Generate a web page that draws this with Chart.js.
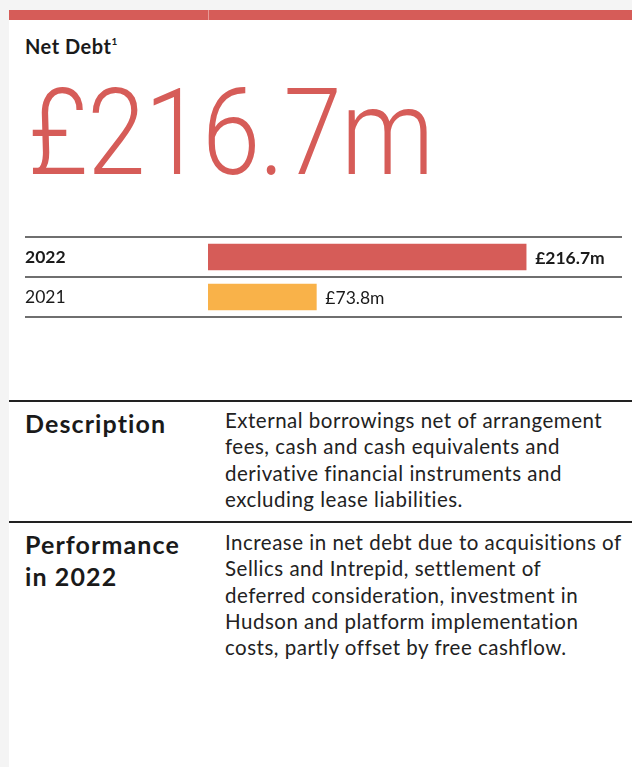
<!DOCTYPE html>
<html>
<head>
<meta charset="utf-8">
<script src="https://cdn.jsdelivr.net/npm/chart.js@4.4.1/dist/chart.umd.min.js"></script>
<style>
    html, body { margin: 0; padding: 0; }
    body {
        width: 632px; height: 767px; overflow: hidden; position: relative;
        background: #f4f4f4; font-family: 'Lato', 'Open Sans', sans-serif; color: #1a1a1a;
    }
    .card { position: absolute; left: 9px; top: 20px; right: 0; bottom: 0; background: #fff; }
    .topbar { position: absolute; left: 9px; top: 10px; right: 0; height: 10px; background: #d65c58; }
    .topbar .split { position: absolute; left: 199px; top: 0; width: 1px; height: 10px; background: #e79a97; }
    .kpi-title { position: absolute; left: 25px; top: 34px; font-size: 20px; line-height: 24px; font-weight: 700; letter-spacing: 0.5px; }
    .kpi-title sup { font-size: 10px; line-height: 0; vertical-align: 9px; }
    .kpi-value {
        position: absolute; left: 28px; top: 73px; font-family: 'Roboto', sans-serif; font-size: 120px; font-weight: 300;
        color: #d65c58; letter-spacing: -1px; line-height: 120px; white-space: nowrap;
        transform: scaleX(0.875); transform-origin: left top;
    }
    #chart-wrap { position: absolute; left: 25px; top: 236px; width: 597px; height: 82px; }
    .rule { position: absolute; left: 9px; right: 0; height: 2px; background: #222; }
    .sec-head { position: absolute; left: 25px; font-size: 25px; font-weight: 700; line-height: 32px; letter-spacing: 1.1px; }
    .sec-text {
        position: absolute; left: 225px; font-size: 20.5px; line-height: 26.3px; white-space: nowrap;
        color: #222; letter-spacing: 0.5px;
    }
</style>
</head>
<body>
<div class="card"></div>
<div class="topbar"><div class="split"></div></div>
<div class="kpi-title">Net Debt<sup>1</sup></div>
<div class="kpi-value">£216.7m</div>

<div id="chart-wrap"><canvas id="netDebtChart"></canvas></div>

<div class="rule" style="top:400px"></div>
<div class="sec-head" style="top:407px">Description</div>
<div class="sec-text" style="top:407px">External borrowings net of arrangement<br>fees, cash and cash equivalents and<br>derivative financial instruments and<br>excluding lease liabilities.</div>

<div class="rule" style="top:521px"></div>
<div class="sec-head" style="top:528px">Performance<br>in 2022</div>
<div class="sec-text" style="top:529px">Increase in net debt due to acquisitions of<br>Sellics and Intrepid, settlement of<br>deferred consideration, investment in<br>Hudson and platform implementation<br>costs, partly offset by free cashflow.</div>

<script>
// Net debt by year (£m)
const years = ['2022', '2021'];
const netDebt = [216.7, 73.8];
const valueLabels = ['£216.7m', '£73.8m'];
const barColors = ['#d65c58', '#f9b249'];

// row separators across the full table width
const rowLines = {
    id: 'rowLines',
    afterDraw(chart) {
        const { ctx, chartArea } = chart;
        const ys = [chartArea.top, (chartArea.top + chartArea.bottom) / 2, chartArea.bottom];
        ctx.save();
        ctx.strokeStyle = '#6f6f6f';
        ctx.lineWidth = 2;
        ys.forEach(y => {
            ctx.beginPath();
            ctx.moveTo(0, y);
            ctx.lineTo(chart.width, y);
            ctx.stroke();
        });
        ctx.restore();
    }
};

// value text right of each bar
const barValues = {
    id: 'barValues',
    afterDatasetsDraw(chart) {
        const { ctx } = chart;
        const meta = chart.getDatasetMeta(0);
        ctx.save();
        ctx.fillStyle = '#1a1a1a';
        ctx.textAlign = 'left';
        ctx.textBaseline = 'middle';
        meta.data.forEach((bar, i) => {
            ctx.font = (i === 0 ? 'bold ' : '') + '17.5px Lato';
            ctx.fillText(valueLabels[i], bar.x + 9, bar.y + 1);
        });
        ctx.restore();
    }
};

new Chart(document.getElementById('netDebtChart').getContext('2d'), {
    type: 'bar',
    data: {
        labels: years,
        datasets: [{
            data: netDebt,
            backgroundColor: barColors,
            borderWidth: 0,
            barThickness: 26
        }]
    },
    options: {
        indexAxis: 'y',
        responsive: true, maintainAspectRatio: false,
        animation: false,
        layout: { padding: { top: 1, bottom: 1, left: 0, right: 0 } },
        scales: {
            x: { display: false, min: 0, max: 282 },
            y: {
                grid: { display: false, drawTicks: false },
                border: { display: false },
                ticks: {
                    crossAlign: 'far',
                    padding: 0,
                    color: '#1a1a1a',
                    font: (c) => ({ family: 'Lato', size: 17.5, weight: c.index === 0 ? 'bold' : 'normal' })
                },
                afterFit(scale) {
                    scale.width = 183;
                    scale.paddingTop = 0;
                    scale.paddingBottom = 0;
                }
            }
        },
        plugins: { legend: { display: false }, tooltip: { enabled: false } }
    },
    plugins: [rowLines, barValues]
});
</script>
</body>
</html>
